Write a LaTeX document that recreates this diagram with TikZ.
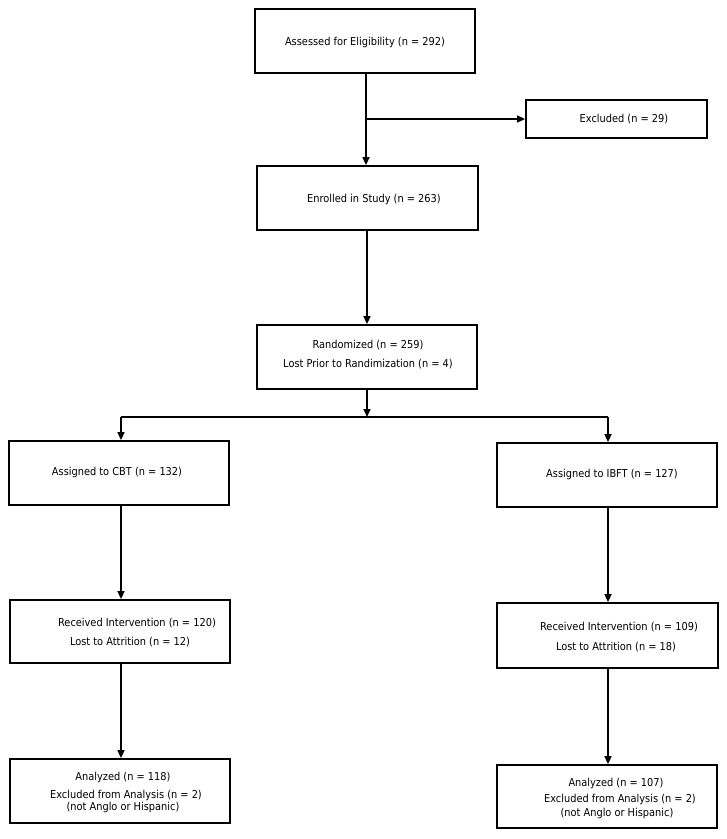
\documentclass[tikz,border=0pt]{standalone}
\usepackage{fontspec}
\setmainfont{DejaVu Sans Condensed}
\usetikzlibrary{arrows.meta}
\begin{document}
\begin{tikzpicture}[x=1pt,y=-1pt,
  box/.style={draw=black, line width=1.8pt, rectangle, inner sep=0pt},
  txt/.style={inner sep=0pt, font=\fontsize{10.9}{12}\selectfont, text=black},
  conn/.style={draw=black, line width=1.6pt},
  arr/.style={conn, -{Triangle[length=8pt,width=7pt]}}]
\useasboundingbox (0,0) rectangle (727,839);
% boxes
\node[box, minimum width=220pt, minimum height=64pt] (b1) at (365,41) {};
\node[box, minimum width=181pt, minimum height=38pt] (ex) at (616.5,119) {};
\node[box, minimum width=221pt, minimum height=64pt] (b2) at (367.5,198) {};
\node[box, minimum width=220pt, minimum height=64pt] (b3) at (367,357) {};
\node[box, minimum width=220pt, minimum height=64pt] (c1) at (119,473) {};
\node[box, minimum width=220pt, minimum height=63pt] (c2) at (120,631.5) {};
\node[box, minimum width=220pt, minimum height=64pt] (c3) at (120,791) {};
\node[box, minimum width=220pt, minimum height=64pt] (i1) at (607,475) {};
\node[box, minimum width=221pt, minimum height=65pt] (i2) at (607.5,635.5) {};
\node[box, minimum width=220pt, minimum height=63pt] (i3) at (607,796.5) {};
% texts
\node[txt] (tb1) at (365,42) {Assessed for Eligibility (n = 292)};
\node[txt] (tex) at (624,119) {Excluded (n = 29)};
\node[txt] (tb2) at (374,199) {Enrolled in Study (n = 263)};
\node[txt] (tb3a) at (368,345) {Randomized (n = 259)};
\node[txt] (tb3b) at (368,364) {Lost Prior to Randimization (n = 4)};
\node[txt] (tc1) at (117,472) {Assigned to CBT (n = 132)};
\node[txt] (tc2a) at (137,623) {Received Intervention (n = 120)};
\node[txt] (tc2b) at (130,642) {Lost to Attrition (n = 12)};
\node[txt] (tc3a) at (123,777) {Analyzed (n = 118)};
\node[txt] (tc3b) at (126,795) {Excluded from Analysis (n = 2)};
\node[txt] (tc3c) at (123,807) {(not Anglo or Hispanic)};
\node[txt] (ti1) at (612,474) {Assigned to IBFT (n = 127)};
\node[txt] (ti2a) at (619,627) {Received Intervention (n = 109)};
\node[txt] (ti2b) at (616,647) {Lost to Attrition (n = 18)};
\node[txt] (ti3a) at (616,783) {Analyzed (n = 107)};
\node[txt] (ti3b) at (620,799) {Excluded from Analysis (n = 2)};
\node[txt] (ti3c) at (617,813) {(not Anglo or Hispanic)};
% junctions
\coordinate (j1) at (366,119);
\coordinate (s) at (367,417);
\coordinate (sl) at (121,417);
\coordinate (sr) at (608,417);
% connectors
\draw[arr] (b1.south -| j1) -- (b2.north -| j1);
\draw[arr] (j1) -- (ex.west);
\draw[arr] (b2.south -| b3) -- (b3.north);
\draw[arr] (b3.south) -- (s);
\draw[conn] (sl) -- (sr);
\draw[arr] (sl) -- (sl |- c1.north);
\draw[arr] (sr) -- (sr |- i1.north);
\draw[arr] (c1.south -| sl) -- (c2.north -| sl);
\draw[arr] (c2.south -| sl) -- (c3.north -| sl);
\draw[arr] (i1.south -| sr) -- (i2.north -| sr);
\draw[arr] (i2.south -| sr) -- (i3.north -| sr);
\end{tikzpicture}
\end{document}
